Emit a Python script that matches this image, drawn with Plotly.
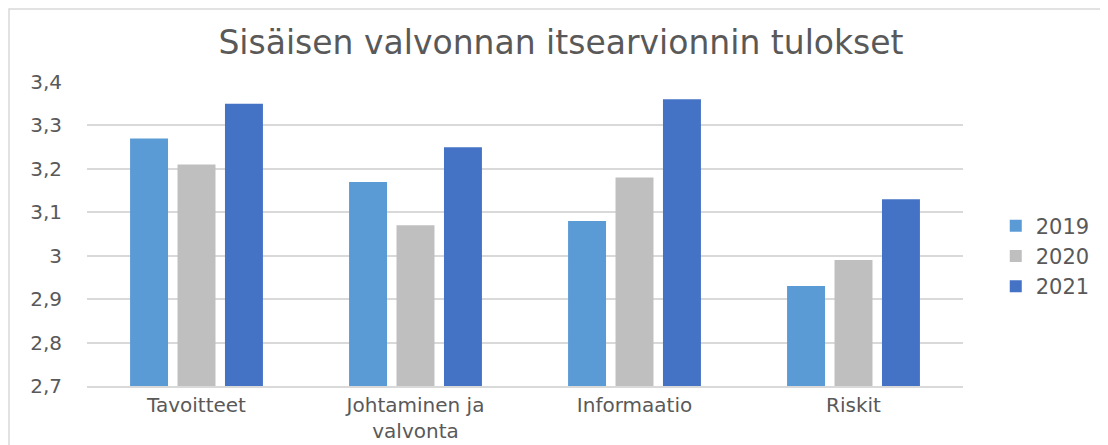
import plotly.graph_objects as go

categories = ["Tavoitteet", "Johtaminen ja<br>valvonta", "Informaatio", "Riskit"]
years = ["2019", "2020", "2021"]
values_2019 = [3.27, 3.17, 3.08, 2.93]
values_2020 = [3.21, 3.07, 3.18, 2.99]
values_2021 = [3.35, 3.25, 3.36, 3.13]
tick_vals = [2.7, 2.8, 2.9, 3.0, 3.1, 3.2, 3.3, 3.4]
tick_text = ["2,7", "2,8", "2,9", "3", "3,1", "3,2", "3,3", "3,4"]
title = "Sisäisen valvonnan itsearvionnin tulokset"

colors = ["#5B9BD5", "#BFBFBF", "#4472C4"]
series = [values_2019, values_2020, values_2021]

fig = go.Figure()
for name, vals, col in zip(years, series, colors):
    fig.add_trace(go.Bar(x=categories, y=vals, name=name, marker_color=col,
                         marker_line_width=0, legendgroup=name))

# page body has an 8px margin, so the figure is drawn at (8, 8)
OFF = 8
W, H = 1108 - OFF, 445 - OFF
PL, PT, PW, PH = 87 - OFF, 82 - OFF, 876, 304

font_fam = "DejaVu Sans, sans-serif"
fig.update_layout(
    width=W, height=H,
    margin=dict(l=PL, r=W - PL - PW, t=PT, b=H - PT - PH, autoexpand=False),
    plot_bgcolor="white", paper_bgcolor="white",
    barmode="group", bargap=0.35, bargroupgap=0.2,
    title=dict(text=title, x=(561 - OFF) / W, xanchor="center",
               y=1 - (42 - OFF) / H, yanchor="middle", yref="container",
               font=dict(family=font_fam, size=33, color="#595959")),
    font=dict(family=font_fam, color="#595959", size=20),
    legend=dict(x=1.0374, xanchor="left", y=(386 - 256) / 304, yanchor="middle",
                font=dict(size=21, color="#595959"), tracegroupgap=10,
                traceorder="normal"),
    showlegend=True,
    yaxis=dict(range=[2.7, 3.4], tickvals=tick_vals, ticktext=tick_text,
               showgrid=True, gridcolor="#d9d9d9", gridwidth=1.5,
               zeroline=False, showline=False, ticks="", automargin=False,
               ticklabelstandoff=24, tickfont=dict(size=20, color="#595959")),
    xaxis=dict(showline=True, linecolor="#d9d9d9", linewidth=2, ticks="",
               automargin=False,
               ticklabelstandoff=0, tickfont=dict(size=20, color="#595959")),
    shapes=[dict(type="rect", xref="paper", yref="paper",
                 x0=(9 - 87) / PW, x1=(1120 - 87) / PW,
                 y0=-(460 - 386) / PH, y1=1 + (82 - 9) / PH,
                 line=dict(color="#d9d9d9", width=1.5), layer="below")],
)

fig.write_html("out.html")
